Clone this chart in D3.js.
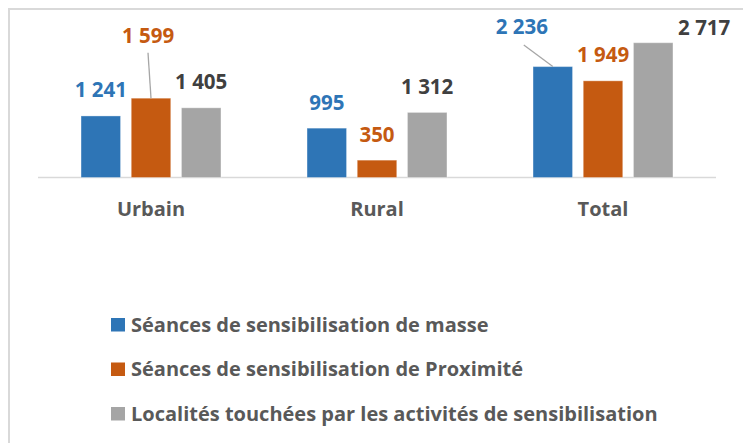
<!DOCTYPE html>
<html>
<head>
<meta charset="utf-8">
<script src="https://cdn.jsdelivr.net/npm/d3@7"></script>
<style>
  body { margin: 0; background: #fff; }
  svg { display: block; font-family: "Open Sans", Lato, sans-serif; }
</style>
</head>
<body>
<div id="chart"></div>
<script>
// Les catégories et les séries
const categories = ["Urbain", "Rural", "Total"]
const series = [
   "Séances de sensibilisation de masse",
   "Séances de sensibilisation de Proximité",
   "Localités touchées par les activités de sensibilisation"
]
const masse = [1241, 995, 2236]
const proximite = [1599, 350, 1949]
const localites = [1405, 1312, 2717]
const yDomain = [0, 3000]

const valeurs = [masse, proximite, localites]
const couleurs = ["#2E75B6", "#C55A11", "#A5A5A5"]
const couleursLabels = ["#2E75B6", "#C55A11", "#404040"]

// Étiquettes déplacées à la main (comme dans Excel) : [série, catégorie, dx, dy]
const etiquettesDeplacees = [
   {s: 1, c: 0, dx: -3, dy: -37, leader: true},
   {s: 0, c: 2, dx: -31, dy: -14, leader: true},
   {s: 2, c: 2, dx: 51, dy: 11, leader: false}
]

const width = 743, height = 443

const svg = d3.select("#chart")
   .append("svg")
   .attr("width", width)
   .attr("height", height)

// Cadre du graphique (dépasse à droite et en bas)
svg.append("rect")
   .attr("x", 9)
   .attr("y", 9)
   .attr("width", width + 20)
   .attr("height", height + 20)
   .attr("fill", "white")
   .attr("stroke", "#D9D9D9")
   .attr("stroke-width", 2)

const x0 = d3.scaleBand()
   .domain(categories)
   .range([38, 716])

const x1 = d3.scaleBand()
   .domain(d3.range(series.length))
   .range([0, x0.bandwidth()])
   .paddingInner(0.213)
   .paddingOuter(0.857)

const y = d3.scaleLinear()
   .domain(yDomain)
   .range([177.5, 28.7])

// Axe horizontal
svg.append("line")
   .attr("x1", x0.range()[0])
   .attr("x2", x0.range()[1])
   .attr("y1", y(0))
   .attr("y2", y(0))
   .attr("stroke", "#D9D9D9")
   .attr("stroke-width", 1.5)

const xAxis = svg.append("g")
   .attr("transform", `translate(0,${y(0)})`)
   .call(d3.axisBottom(x0).tickSize(0).tickPadding(24))
xAxis.select(".domain").remove()
xAxis.selectAll("text")
   .attr("font-family", "'Open Sans', sans-serif")
   .attr("font-size", 20)
   .attr("font-weight", "bold")
   .attr("fill", "#595959")

// Données à plat pour les barres
const barres = []
valeurs.forEach((vals, s) => {
   vals.forEach((v, c) => {
      barres.push({s: s, c: c, v: v})
   })
})

const cx = d => x0(categories[d.c]) + x1(d.s) + x1.bandwidth() / 2

svg.append("g")
   .selectAll("rect")
   .data(barres)
   .join("rect")
   .attr("x", d => x0(categories[d.c]) + x1(d.s))
   .attr("y", d => y(d.v))
   .attr("width", x1.bandwidth())
   .attr("height", d => y(0) - y(d.v))
   .attr("fill", d => couleurs[d.s])
   .attr("stroke", "rgba(255,255,255,0.35)")
   .attr("stroke-width", 1)

// Position des étiquettes
function positionLabel(d) {
   const dep = etiquettesDeplacees.find(e => e.s === d.s && e.c === d.c)
   let px = cx(d), py = y(d.v) - 18.5
   if (dep) {
      px += dep.dx
      py += dep.dy
   }
   return {x: px, y: py, dep: dep}
}

// Lignes de rappel
svg.append("g")
   .selectAll("line")
   .data(barres.filter(d => {
      const dep = positionLabel(d).dep
      return dep && dep.leader
   }))
   .join("line")
   .attr("x1", d => {
      const p = positionLabel(d)
      return d.c === 2 ? p.x + 2 : p.x
   })
   .attr("y1", d => positionLabel(d).y + (d.c === 2 ? 11 : 10))
   .attr("x2", cx)
   .attr("y2", d => y(d.v))
   .attr("stroke", "#A6A6A6")
   .attr("stroke-width", 1.3)

svg.append("g")
   .selectAll("text")
   .data(barres)
   .join("text")
   .attr("x", d => positionLabel(d).x)
   .attr("y", d => positionLabel(d).y)
   .attr("text-anchor", "middle")
   .attr("font-size", 20.5)
   .attr("font-weight", "bold")
   .attr("fill", d => couleursLabels[d.s])
   .text(d => d3.format(",")(d.v).replace(",", " "))

// Légende
const legende = svg.append("g")
   .selectAll("g")
   .data(series)
   .join("g")
   .attr("transform", (d, i) => `translate(111,${318 + i * 44.5})`)

legende.append("rect")
   .attr("width", 14)
   .attr("height", 13.5)
   .attr("fill", (d, i) => couleurs[i])

legende.append("text")
   .attr("x", 20)
   .attr("y", 13.5)
   .attr("font-size", 20)
   .attr("font-weight", "bold")
   .attr("fill", "#595959")
   .text(d => d)
</script>
</body>
</html>
